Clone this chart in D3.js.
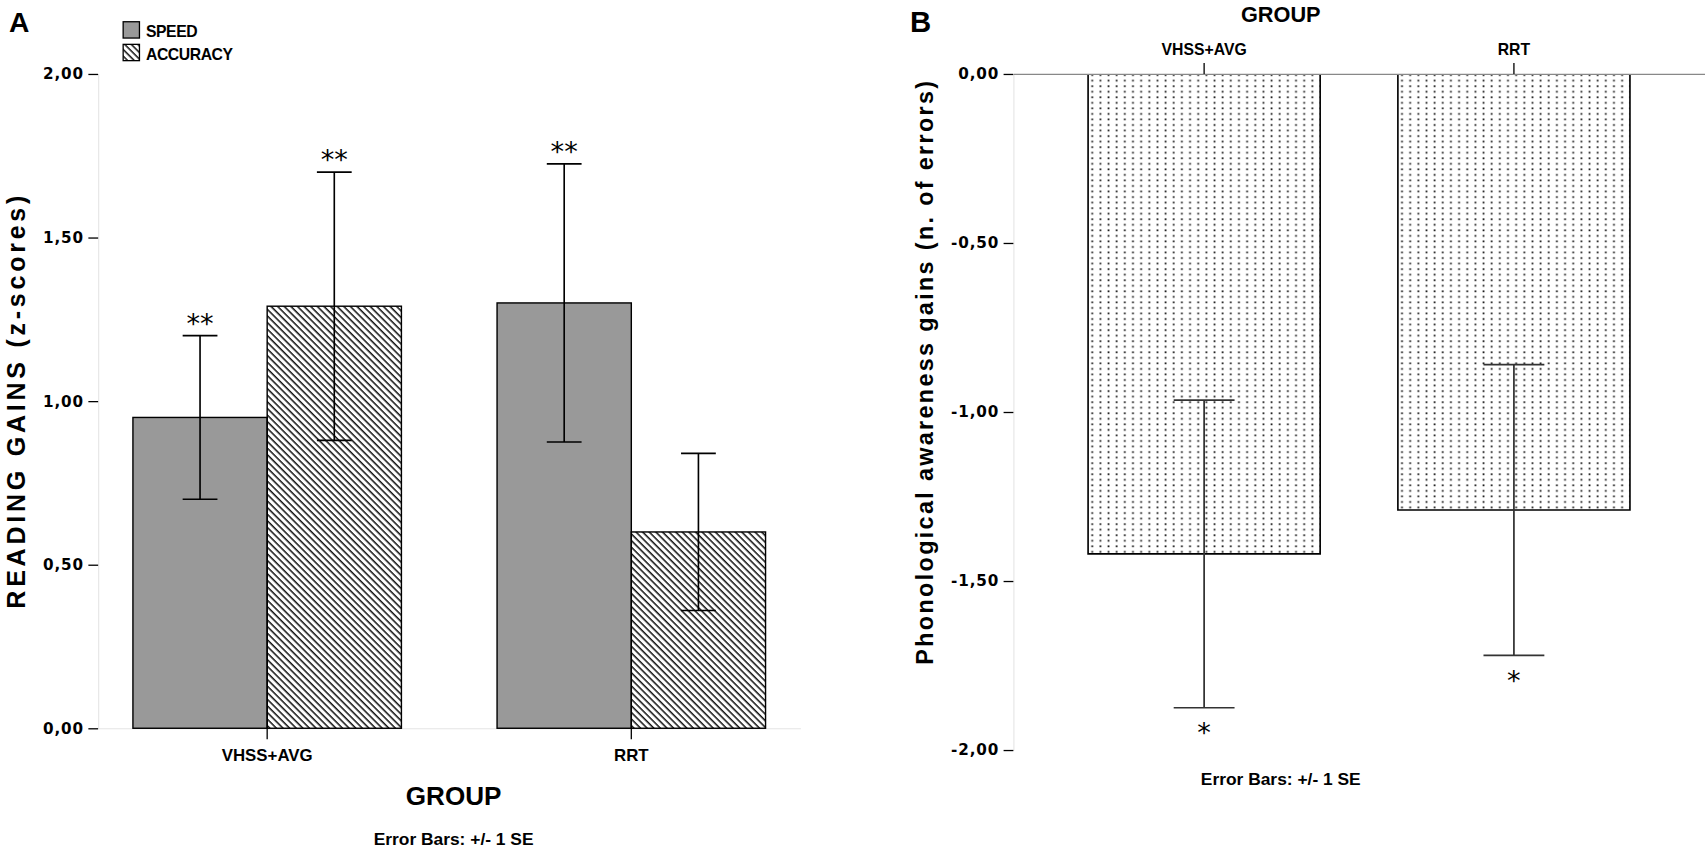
<!DOCTYPE html>
<html>
<head>
<meta charset="utf-8">
<script src="https://cdn.jsdelivr.net/npm/d3@7"></script>
<style>
  body { margin: 0; background: #fff; }
  svg { display: block; }
</style>
</head>
<body>
<svg class="chart"></svg>
<script>
// panel A : reading gains
var groups = ['VHSS+AVG', 'RRT'];
var seriesA = ['SPEED', 'ACCURACY'];
var speedMean = [0.95, 1.30];
var speedSE = [0.25, 0.425];
var accuracyMean = [1.29, 0.60];
var accuracySE = [0.41, 0.24];
var speedStars = ['**', '**'];
var accuracyStars = ['**', ''];
var yTicksA = [0, 0.5, 1, 1.5, 2];

// panel B : phonological awareness
var phonMean = [-1.42, -1.29];
var phonSE = [0.455, 0.43];
var phonStars = ['*', '*'];
var yTicksB = [0, -0.5, -1, -1.5, -2];

function show() {
    'use strict';

    // drawn in a 1568 x 782 frame, scaled to the window
    var W = 1568, H = 782;
    var svg = d3.select('.chart')
        .attr('width', 1705)
        .attr('height', 850)
        .attr('viewBox', '0 0 ' + W + ' ' + H);

    var fmt = d3.formatLocale({ decimal: ',', thousands: '.', grouping: [3],
                                currency: ['', ''], minus: '-' }).format('.2f');
    var sans = '"Liberation Sans", Arial, sans-serif';
    var tickFont = '"DejaVu Sans", sans-serif';

    var defs = svg.append('defs');
    defs.append('pattern')
        .attr('id', 'hatch')
        .attr('patternUnits', 'userSpaceOnUse')
        .attr('width', 4.3).attr('height', 10)
        .attr('patternTransform', 'rotate(-45)')
        .append('line')
        .attr('x1', 1).attr('x2', 1).attr('y1', -1).attr('y2', 11)
        .attr('stroke', '#000').attr('stroke-width', 1.3);
    var dots = defs.append('pattern')
        .attr('id', 'dots')
        .attr('patternUnits', 'userSpaceOnUse')
        .attr('width', 7.5).attr('height', 5.1);
    dots.append('rect').attr('width', 7.5).attr('height', 5.1).attr('fill', '#fff');
    dots.append('rect').attr('x', 3).attr('y', 2).attr('width', 1.6).attr('height', 1.6).attr('fill', '#1a1a1a');

    function styleTicks(g) {
        g.selectAll('.tick line').attr('stroke', '#000').attr('stroke-width', 1.2);
        g.selectAll('.tick text').attr('fill', '#000');
    }

    // ---------------- panel A ----------------
    var rowsA = [];
    groups.forEach(function (grp, i) {
        rowsA.push({ group: grp, series: 'SPEED', mean: speedMean[i], se: speedSE[i], star: speedStars[i] });
        rowsA.push({ group: grp, series: 'ACCURACY', mean: accuracyMean[i], se: accuracySE[i], star: accuracyStars[i] });
    });

    var yA = d3.scaleLinear().domain([0, 2]).range([670, 68]);
    var xA = d3.scaleBand().domain(groups).range([90, 736])
        .paddingInner(0.2627).paddingOuter(0.0955);
    var xS = d3.scaleBand().domain(seriesA).range([0, xA.bandwidth()]);
    var fillA = { SPEED: '#999999', ACCURACY: 'url(#hatch)' };

    var gA = svg.append('g');

    var axA = gA.append('g')
        .attr('transform', 'translate(' + xA.range()[0] + ',0)')
        .call(d3.axisLeft(yA).tickValues(yTicksA).tickFormat(fmt)
              .tickSize(9).tickSizeOuter(0).tickPadding(4));
    axA.select('.domain').attr('stroke', '#e4e4e4');
    axA.selectAll('.tick text').attr('font-family', tickFont).attr('font-weight', 'bold')
        .attr('font-size', 14).attr('letter-spacing', 0.8);
    styleTicks(axA);

    var bxA = gA.append('g')
        .attr('transform', 'translate(0,' + yA(0) + ')')
        .call(d3.axisBottom(xA).tickSize(10).tickSizeOuter(0).tickPadding(9));
    bxA.select('.domain').attr('stroke', '#e4e4e4');
    bxA.selectAll('.tick text').attr('font-family', sans).attr('font-weight', 'bold')
        .attr('font-size', 15.5);
    styleTicks(bxA);

    var barsA = gA.selectAll('g.bar').data(rowsA).enter().append('g')
        .attr('class', 'bar')
        .attr('transform', function (d) { return 'translate(' + (xA(d.group) + xS(d.series)) + ',0)'; });

    barsA.append('rect')
        .attr('y', function (d) { return yA(d.mean); })
        .attr('width', xS.bandwidth())
        .attr('height', function (d) { return yA(0) - yA(d.mean); })
        .attr('fill', function (d) { return fillA[d.series]; })
        .attr('stroke', '#000').attr('stroke-width', 1.3);

    var cx = xS.bandwidth() / 2, capA = 16;
    barsA.append('path')
        .attr('d', function (d) {
            var t = yA(d.mean + d.se), b = yA(d.mean - d.se);
            return 'M' + cx + ',' + t + 'V' + b +
                   'M' + (cx - capA) + ',' + t + 'H' + (cx + capA) +
                   'M' + (cx - capA) + ',' + b + 'H' + (cx + capA);
        })
        .attr('stroke', '#000').attr('stroke-width', 1.5).attr('fill', 'none');

    barsA.append('text')
        .attr('x', cx)
        .attr('y', function (d) { return yA(d.mean + d.se) - 2.5; })
        .attr('text-anchor', 'middle')
        .attr('font-family', tickFont).attr('font-size', 25)
        .text(function (d) { return d.star; });

    gA.append('text')
        .attr('transform', 'translate(23,370) rotate(-90)')
        .attr('text-anchor', 'middle')
        .attr('font-family', sans).attr('font-weight', 'bold').attr('font-size', 23)
        .attr('textLength', 380).attr('lengthAdjust', 'spacing')
        .text('READING GAINS (z-scores)');

    gA.append('text').attr('x', 417).attr('y', 741).attr('text-anchor', 'middle')
        .attr('font-family', sans).attr('font-weight', 'bold').attr('font-size', 24)
        .text('GROUP');
    gA.append('text').attr('x', 417).attr('y', 777).attr('text-anchor', 'middle')
        .attr('font-family', sans).attr('font-weight', 'bold').attr('font-size', 16)
        .text('Error Bars: +/- 1 SE');

    gA.append('text').attr('x', 8).attr('y', 29.5)
        .attr('font-family', sans).attr('font-weight', 'bold').attr('font-size', 26)
        .text('A');

    var legend = gA.selectAll('g.legend').data(seriesA).enter().append('g')
        .attr('class', 'legend')
        .attr('transform', function (d, i) { return 'translate(113,' + (20 + i * 20.8) + ')'; });
    legend.append('rect')
        .attr('width', 15).attr('height', 15)
        .attr('fill', function (d) { return fillA[d]; })
        .attr('stroke', '#000').attr('stroke-width', 1.2);
    legend.append('text')
        .attr('x', 21).attr('y', 14)
        .attr('font-family', sans).attr('font-weight', 'bold').attr('font-size', 14.5)
        .attr('letter-spacing', -0.4)
        .text(function (d) { return d; });

    // ---------------- panel B ----------------
    var rowsB = groups.map(function (grp, i) {
        return { group: grp, mean: phonMean[i], se: phonSE[i], star: phonStars[i] };
    });

    var yB = d3.scaleLinear().domain([-2, 0]).range([690, 68]);
    var xB = d3.scaleBand().domain(groups).range([932, W])
        .paddingInner(0.2509).paddingOuter(0.2412);

    var gB = svg.append('g');

    var barsB = gB.selectAll('g.bar').data(rowsB).enter().append('g')
        .attr('class', 'bar')
        .attr('transform', function (d) { return 'translate(' + xB(d.group) + ',0)'; });

    var bw = xB.bandwidth();
    barsB.append('rect')
        .attr('y', yB(0))
        .attr('width', bw)
        .attr('height', function (d) { return yB(d.mean) - yB(0); })
        .attr('fill', 'url(#dots)');
    barsB.append('path')
        .attr('d', function (d) {
            return 'M0,' + yB(0) + 'V' + yB(d.mean) + 'H' + bw + 'V' + yB(0);
        })
        .attr('fill', 'none').attr('stroke', '#000').attr('stroke-width', 1.5);

    var capB = 28;
    barsB.append('path')
        .attr('d', function (d) {
            var t = yB(d.mean + d.se), b = yB(d.mean - d.se), c = bw / 2;
            return 'M' + c + ',' + t + 'V' + b +
                   'M' + (c - capB) + ',' + t + 'H' + (c + capB) +
                   'M' + (c - capB) + ',' + b + 'H' + (c + capB);
        })
        .attr('stroke', '#333').attr('stroke-width', 1.6).attr('fill', 'none');

    barsB.append('text')
        .attr('x', bw / 2)
        .attr('y', function (d) { return yB(d.mean - d.se) + 31.5; })
        .attr('text-anchor', 'middle')
        .attr('font-family', tickFont).attr('font-size', 25)
        .text(function (d) { return d.star; });

    var axB = gB.append('g')
        .attr('transform', 'translate(' + xB.range()[0] + ',0)')
        .call(d3.axisLeft(yB).tickValues(yTicksB).tickFormat(fmt)
              .tickSize(9).tickSizeOuter(0).tickPadding(4));
    axB.select('.domain').attr('stroke', '#e4e4e4');
    axB.selectAll('.tick text').attr('font-family', tickFont).attr('font-weight', 'bold')
        .attr('font-size', 14).attr('letter-spacing', 0.8);
    styleTicks(axB);

    var txB = gB.append('g')
        .attr('transform', 'translate(0,' + yB(0) + ')')
        .call(d3.axisTop(xB).tickSize(10).tickSizeOuter(0).tickPadding(7));
    txB.select('.domain').attr('stroke', '#888').attr('stroke-width', 1.2);
    txB.selectAll('.tick text').attr('font-family', sans).attr('font-weight', 'bold')
        .attr('font-size', 14.5);
    styleTicks(txB);

    gB.append('text')
        .attr('transform', 'translate(858,343) rotate(-90)')
        .attr('text-anchor', 'middle')
        .attr('font-family', sans).attr('font-weight', 'bold').attr('font-size', 21.5)
        .attr('textLength', 537).attr('lengthAdjust', 'spacing')
        .text('Phonological awareness gains (n. of errors)');

    gB.append('text').attr('x', 1178).attr('y', 20).attr('text-anchor', 'middle')
        .attr('font-family', sans).attr('font-weight', 'bold').attr('font-size', 20)
        .text('GROUP');
    gB.append('text').attr('x', 1178).attr('y', 722).attr('text-anchor', 'middle')
        .attr('font-family', sans).attr('font-weight', 'bold').attr('font-size', 16)
        .text('Error Bars: +/- 1 SE');

    gB.append('text').attr('x', 837).attr('y', 29.7)
        .attr('font-family', sans).attr('font-weight', 'bold').attr('font-size', 27)
        .text('B');
}

show();
</script>
</body>
</html>
